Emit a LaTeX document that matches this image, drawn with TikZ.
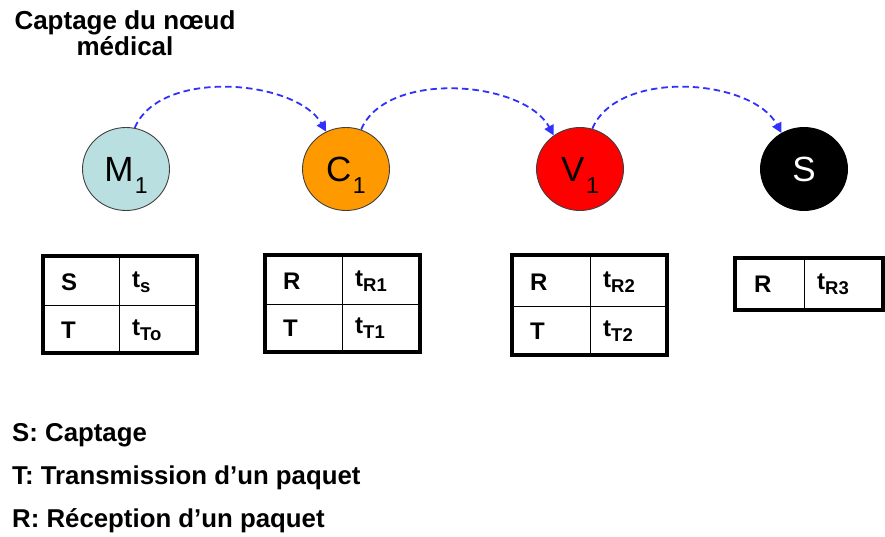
\documentclass[tikz,border=0pt]{standalone}
\usepackage{fontspec}
\setmainfont{Liberation Sans}
\usetikzlibrary{shapes.geometric,arrows.meta}
\definecolor{mlblue}{HTML}{B9DFE1}
\definecolor{corange}{HTML}{FF9900}
\definecolor{vred}{HTML}{FF0000}
\definecolor{arrblue}{HTML}{3030FF}
\newcommand\nsub[1]{\kern1.5pt\raisebox{-12pt}[0pt][0pt]{\fontsize{23}{23}\selectfont #1}}
\newcommand\tsub[2]{t\raisebox{-5pt}{\fontsize{18.5}{18.5}\selectfont #2}}
\begin{document}
\begin{tikzpicture}[x=1pt,y=-1pt,
  nodecirc/.style={ellipse, draw=black!75, line width=0.9pt, minimum width=87pt, minimum height=83pt, inner sep=0pt, font=\fontsize{35}{35}\selectfont},
  flow/.style={draw=arrblue, line width=1.8pt, dash pattern=on 6.5pt off 4pt, -{Triangle[length=10pt,width=10pt,fill=arrblue]}},
  cell/.style={anchor=west, inner sep=0pt, font=\bfseries\fontsize{24}{24}\selectfont},
  legend/.style={anchor=base west, inner sep=0pt, font=\bfseries\fontsize{25.8}{25.8}\selectfont},
  titletext/.style={anchor=base, inner sep=0pt, font=\bfseries\fontsize{26}{26}\selectfont},
  outerframe/.style={line width=3.5pt},
  innerline/.style={line width=1pt}
]
\useasboundingbox (0,0) rectangle (885,537);

% title
\node[titletext] (title1) at (125,30) {Captage du nœud};
\node[titletext] (title2) at (125,56) {médical};

% nodes
\node[nodecirc, fill=mlblue] (M1) at (126,169) {M\nsub{1}};
\node[nodecirc, fill=corange] (C1) at (346,169) {C\nsub{1}};
\node[nodecirc, fill=vred] (V1) at (580,169) {V\nsub{1}};
\node[nodecirc, fill=black, draw=black, text=white] (S) at (804,169) {S};

% arrows
\draw[flow] (M1.78) .. controls +(25,-60) and +(-30,-52) .. (C1.118);
\draw[flow] (C1.69) .. controls +(25,-60) and +(-30,-55) .. (V1.128);
\draw[flow] (V1.73) .. controls +(25,-60) and +(-30,-55) .. (S.122);

% table 1
\draw[innerline] (119,256) -- (119,353) (43,305) -- (197,305);
\draw[outerframe] (43,256) rectangle (197,353);
\node[cell] (t1a) at (61,282) {S};
\node[cell] (t1b) at (132,282) {\tsub{t}{s}};
\node[cell] (t1c) at (61,330) {T};
\node[cell] (t1d) at (132,330) {\tsub{t}{To}};

% table 2
\draw[innerline] (342,255) -- (342,352) (265,304) -- (420,304);
\draw[outerframe] (265,255) rectangle (420,352);
\node[cell] (t2a) at (283,281) {R};
\node[cell] (t2b) at (355,281) {\tsub{t}{R1}};
\node[cell] (t2c) at (283,328) {T};
\node[cell] (t2d) at (355,328) {\tsub{t}{T1}};

% table 3
\draw[innerline] (590,255) -- (590,355) (512,306) -- (667,306);
\draw[outerframe] (512,255) rectangle (667,355);
\node[cell] (t3a) at (530,282) {R};
\node[cell] (t3b) at (603,282) {\tsub{t}{R2}};
\node[cell] (t3c) at (530,331) {T};
\node[cell] (t3d) at (603,331) {\tsub{t}{T2}};

% table 4
\draw[innerline] (804,258) -- (804,310);
\draw[outerframe] (735,258) rectangle (883,310);
\node[cell] (t4a) at (754,284) {R};
\node[cell] (t4b) at (817,284) {\tsub{t}{R3}};

% legend
\node[legend] (lg1) at (12,441) {S: Captage};
\node[legend] (lg2) at (12,484) {T: Transmission d’un paquet};
\node[legend] (lg3) at (12,527) {R: Réception d’un paquet};
\end{tikzpicture}
\end{document}
